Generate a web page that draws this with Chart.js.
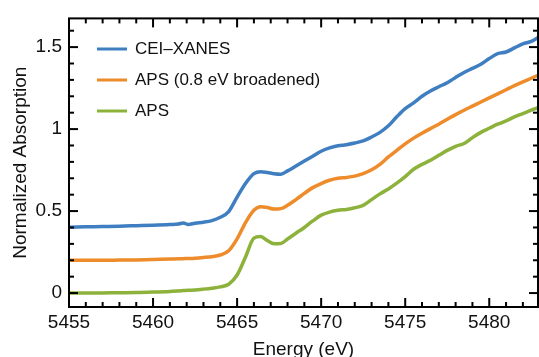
<!DOCTYPE html>
<html>
<head>
<meta charset="utf-8">
<script src="https://cdn.jsdelivr.net/npm/chart.js@4/dist/chart.umd.min.js"></script>
<style>
html,body{margin:0;padding:0;background:#fff;}
#wrap{width:539px;height:357px;}
</style>
</head>
<body>
<div id="wrap"><canvas id="c" width="539" height="357"></canvas></div>
<script>
const energy = [5455,5456,5457,5458,5459,5460,5461,5461.5,5461.8,5462.1,5462.5,5463,5463.5,5464,5464.5,5465,5465.5,5466,5466.4,5466.8,5467.2,5467.6,5468,5468.5,5469,5469.5,5470,5470.5,5471,5471.5,5472,5472.5,5473,5473.5,5474,5474.5,5475,5475.5,5476,5476.5,5477,5477.5,5478,5478.5,5479,5479.5,5480,5480.5,5481,5481.5,5482,5482.5,5483];
const ceiXanes = [0.402,0.404,0.406,0.408,0.411,0.414,0.418,0.421,0.428,0.418,0.426,0.432,0.442,0.462,0.497,0.585,0.668,0.728,0.74,0.735,0.728,0.725,0.745,0.775,0.805,0.835,0.865,0.885,0.898,0.905,0.915,0.928,0.952,0.98,1.02,1.075,1.125,1.16,1.2,1.232,1.258,1.283,1.315,1.345,1.37,1.395,1.43,1.46,1.47,1.495,1.52,1.535,1.565];
const apsBroadened = [0.2,0.2,0.2,0.201,0.202,0.204,0.207,0.209,0.21,0.211,0.213,0.217,0.222,0.232,0.258,0.33,0.43,0.505,0.527,0.522,0.512,0.515,0.535,0.57,0.608,0.643,0.668,0.688,0.7,0.705,0.713,0.728,0.752,0.785,0.83,0.87,0.91,0.945,0.975,1.003,1.03,1.06,1.088,1.115,1.14,1.165,1.19,1.215,1.24,1.265,1.288,1.31,1.333];
const aps = [0.0,0.0,0.001,0.002,0.003,0.006,0.01,0.013,0.015,0.017,0.019,0.024,0.03,0.038,0.054,0.11,0.22,0.335,0.345,0.32,0.3,0.302,0.33,0.365,0.4,0.44,0.475,0.494,0.505,0.51,0.52,0.535,0.57,0.605,0.635,0.67,0.71,0.755,0.785,0.81,0.84,0.87,0.895,0.912,0.948,0.98,1.005,1.03,1.05,1.075,1.095,1.115,1.135];
const seriesLabels = ['CEI\u2013XANES','APS (0.8 eV broadened)','APS'];
const seriesColors = ['#3F7FC1','#EE8B2B','#8CB23B'];
const xTicks = [5455,5460,5465,5470,5475,5480];
const yTicks = [0,0.5,1,1.5];
const xRange = [5455,5482.9];
const yRange = [-0.085,1.675];

const FONT = '"Liberation Sans", Arial, sans-serif';
const toPts = ys => energy.map((e,i)=>({x:e,y:ys[i]}));

const framePlugin = {
  id:'frame',
  afterDatasetsDraw(chart){
    const {ctx, chartArea:a, scales:{x,y}} = chart;
    ctx.save();
    ctx.strokeStyle='#000';
    ctx.lineWidth=2;
    ctx.strokeRect(a.left, a.top, a.right-a.left, a.bottom-a.top);
    const line=(x1,y1,x2,y2)=>{ctx.beginPath();ctx.moveTo(x1,y1);ctx.lineTo(x2,y2);ctx.stroke();};
    const xStep=(xTicks[1]-xTicks[0])/5;
    for(let v=xTicks[0]; v<=x.max+1e-9; v+=xStep){
      const px=x.getPixelForValue(v);
      if(px<a.left-0.5||px>a.right+0.5) continue;
      const major = xTicks.some(t=>Math.abs(t-v)<1e-6);
      const L = major?9:5;
      line(px,a.bottom,px,a.bottom-L);
      line(px,a.top,px,a.top+L);
    }
    const yStep=(yTicks[1]-yTicks[0])/5;
    for(let k=Math.ceil(y.min/yStep); k*yStep<=y.max+1e-9; k++){
      const v=k*yStep;
      const py=y.getPixelForValue(v);
      const major = yTicks.some(t=>Math.abs(t-v)<1e-6);
      const L = major?9:5;
      line(a.left,py,a.left+L,py);
      line(a.right,py,a.right-L,py);
    }
    ctx.font='17px '+FONT;
    ctx.textBaseline='middle';
    ctx.fillStyle='#111';
    chart.data.datasets.forEach((ds,i)=>{
      const ly=49+i*31;
      ctx.strokeStyle=ds.borderColor;
      ctx.lineWidth=3;
      line(97,ly,127,ly);
      ctx.fillText(ds.label,135,ly);
    });
    ctx.restore();
  }
};

new Chart(document.getElementById('c'),{
  type:'line',
  data:{
    datasets:[ceiXanes,apsBroadened,aps].map((ys,i)=>({
      label:seriesLabels[i],
      data:toPts(ys),
      borderColor:seriesColors[i],
      backgroundColor:seriesColors[i],
      borderWidth:3.5,
      pointRadius:0,
      cubicInterpolationMode:'monotone',
      fill:false
    }))
  },
  options:{
    responsive:false,
    animation:false,
    devicePixelRatio:1,
    layout:{padding:{top:16,right:1,left:0,bottom:0}},
    plugins:{legend:{display:false},tooltip:{enabled:false}},
    scales:{
      x:{
        type:'linear',
        min:xRange[0],max:xRange[1],
        afterBuildTicks:s=>{s.ticks=xTicks.map(v=>({value:v}));},
        afterFit:s=>{s.height=50;},
        grid:{display:false,drawTicks:false},
        border:{display:false},
        ticks:{color:'#111',font:{family:FONT,size:19},padding:4,maxRotation:0,callback:v=>String(v)},
        title:{display:true,text:'Energy (eV)',color:'#111',font:{family:FONT,size:19},padding:{top:0,bottom:-4}}
      },
      y:{
        type:'linear',
        min:yRange[0],max:yRange[1],
        afterBuildTicks:s=>{s.ticks=yTicks.map(v=>({value:v}));},
        afterFit:s=>{s.width=69;},
        grid:{display:false,drawTicks:false},
        border:{display:false},
        ticks:{color:'#111',font:{family:FONT,size:19},padding:7,callback:v=>String(v)},
        title:{display:true,text:'Normalized Absorption',color:'#111',font:{family:FONT,size:19},padding:{top:9,bottom:0}}
      }
    }
  },
  plugins:[framePlugin]
});
</script>
</body>
</html>
